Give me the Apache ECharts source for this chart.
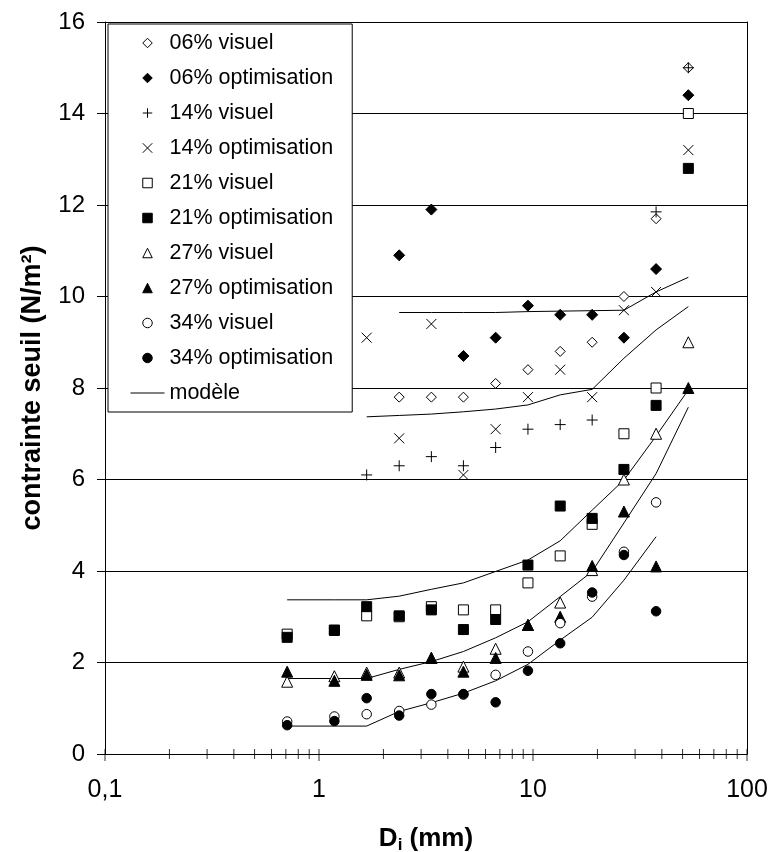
<!DOCTYPE html>
<html><head><meta charset="utf-8">
<script src="https://cdn.jsdelivr.net/npm/echarts@6/dist/echarts.min.js"></script>
<style>html,body{margin:0;padding:0;background:#fff}#c{width:772px;height:852px}</style>
</head><body><div id="c"></div>
<script>
// particle size classes (mm)
const xCols = [0.71, 1.18, 1.67, 2.37, 3.35, 4.73, 6.69, 9.47, 13.4, 18.9, 26.6, 37.6, 53.2];
// measured threshold stress (N/m2)
const vis06 = [null, null, null, 7.8, 7.8, 7.8, 8.1, 8.4, 8.8, 9.0, 10.0, 11.7, 15.0];
const opt06 = [null, null, null, 10.9, 11.9, 8.7, 9.1, 9.8, 9.6, 9.6, 9.1, 10.6, 14.4];
const vis14 = [null, null, 6.1, 6.3, 6.5, 6.3, 6.7, 7.1, 7.2, 7.3, null, 11.85, 15.0];
const opt14 = [null, null, 9.1, 6.9, 9.4, 6.1, 7.1, 7.8, 8.4, 7.8, 9.7, 10.1, 13.2];
const vis21 = [2.62, 2.7, 3.02, 3.0, 3.22, 3.15, 3.15, 3.74, 4.33, 5.02, 7.0, 8.0, 14.0];
const opt21 = [2.55, 2.71, 3.22, 3.02, 3.15, 2.72, 2.94, 4.13, 5.42, 5.15, 6.22, 7.62, 12.8];
const vis27 = [1.58, 1.70, 1.78, 1.78, 2.1, 1.91, 2.30, 2.82, 3.31, 4.02, 6.0, 7.0, 9.0];
const opt27 = [1.80, 1.60, 1.73, 1.72, 2.10, 1.80, 2.10, 2.82, 3.0, 4.11, 5.3, 4.1, 8.0];
const vis34 = [0.71, 0.82, 0.87, 0.94, 1.08, 1.3, 1.73, 2.24, 2.86, 3.44, 4.42, 5.5, null];
const opt34 = [0.63, 0.72, 1.22, 0.84, 1.31, 1.31, 1.13, 1.82, 2.42, 3.53, 4.35, 3.12, null];
// model curves
const mod06 = [null, null, null, 9.65, 9.65, 9.65, 9.65, 9.67, 9.68, 9.69, 9.70, 10.1, 10.42];
const mod14 = [null, null, 7.37, 7.40, 7.43, 7.48, 7.54, 7.63, 7.85, 7.97, 8.65, 9.27, 9.78];
const mod21 = [3.37, 3.37, 3.37, 3.45, 3.60, 3.74, 3.99, 4.24, 4.66, 5.33, 5.99, 6.95, 7.96];
const mod27 = [1.65, 1.65, 1.65, 1.85, 2.02, 2.24, 2.54, 2.89, 3.44, 3.99, 5.05, 6.13, 7.58];
const mod34 = [0.61, 0.61, 0.61, 0.93, 1.12, 1.33, 1.60, 1.96, 2.49, 2.99, 3.80, 4.75, null];
// axis ticks
const xTickValues = [0.1, 1, 10, 100];
const xTickLabels = ['0,1', '1', '10', '100'];
const xMinorTicks = [0.2, 0.3, 0.4, 0.5, 0.6, 0.7, 0.8, 0.9, 2, 3, 4, 5, 6, 7, 8, 9, 20, 30, 40, 50, 60, 70, 80, 90];

const FONT = 'Liberation Sans, Arial, sans-serif';
function pairs(vals) {
  const out = [];
  xCols.forEach((x, i) => { if (vals[i] != null) out.push([x, vals[i]]); });
  return out;
}
const DIAMOND = 'path://M5,0L10,5L5,10L0,5Z';
const SQUARE = 'path://M0,0L10,0L10,10L0,10Z';
const TRIANGLE = 'path://M5,0L10,10L0,10Z';
const PLUS = 'path://M5,0L5,10M0,5L10,5';
const CROSS = 'path://M0,0L10,10M10,0L0,10';
function sc(name, vals, symbol, size, filled) {
  return {
    name, type: 'scatter', data: pairs(vals), symbol, symbolSize: size, symbolKeepAspect: true,
    itemStyle: { color: filled ? '#000' : '#fff', borderColor: '#000', borderWidth: 1, opacity: 1 },
    z: 3
  };
}
function stroke(name, vals, symbol, size) {
  return {
    name, type: 'scatter', data: pairs(vals), symbol, symbolSize: size, symbolKeepAspect: true,
    itemStyle: { color: 'none', borderColor: '#000', borderWidth: 1, opacity: 1 },
    z: 3
  };
}
function model(vals) {
  return {
    name: 'modèle', type: 'line', data: pairs(vals), symbol: 'none', showSymbol: false,
    lineStyle: { color: '#000', width: 1 }, itemStyle: { color: '#000' }, z: 3, silent: true
  };
}
const names = ['06% visuel', '06% optimisation', '14% visuel', '14% optimisation', '21% visuel',
  '21% optimisation', '27% visuel', '27% optimisation', '34% visuel', '34% optimisation', 'modèle'];

const chart = echarts.init(document.getElementById('c'), null, { renderer: 'canvas' });
chart.setOption({
  backgroundColor: '#fff',
  animation: false,
  grid: { left: 105, right: 25, top: 22, bottom: 98, containLabel: false, outerBoundsMode: 'none' },
  legend: {
    data: names.map(n => n === 'modèle' ? { name: n, itemStyle: { opacity: 0 } } : { name: n }),
    orient: 'vertical', left: 108, top: 24,
    padding: [8, 19, 8, 22], itemGap: 13, itemWidth: 34, itemHeight: 9.5,
    symbolKeepAspect: true,
    backgroundColor: '#fff', borderColor: '#000', borderWidth: 1, borderRadius: 0,
    textStyle: { fontFamily: FONT, fontSize: 21.5, color: '#000' },
    itemStyle: { borderWidth: 1 },
    lineStyle: { width: 1 },
    selectedMode: false
  },
  xAxis: [{
    type: 'log', logBase: 10, min: 0.1, max: 100,
    axisLine: { show: true, onZero: false, lineStyle: { color: '#000', width: 1 } },
    axisTick: { show: false },
    minorTick: { show: false },
    splitLine: { show: false },
    axisLabel: {
      fontFamily: FONT, fontSize: 25, color: '#000', margin: 24,
      formatter: v => {
        const i = xTickValues.findIndex(t => Math.abs(Math.log10(t) - Math.log10(v)) < 1e-6);
        return i >= 0 ? xTickLabels[i] : '';
      }
    },
    name: '{b|D}{s|i}{b| (mm)}', nameLocation: 'middle', nameGap: 70,
    nameTextStyle: {
      rich: {
        b: { fontFamily: FONT, fontSize: 26, fontWeight: 'bold', color: '#000', lineHeight: 30 },
        s: { fontFamily: FONT, fontSize: 17, fontWeight: 'bold', color: '#000', lineHeight: 18, verticalAlign: 'bottom' }
      }
    }
  }],
  yAxis: [{
    type: 'value', min: 0, max: 16, interval: 2, position: 'left',
    axisLine: { show: true, lineStyle: { color: '#000', width: 1 } },
    axisTick: { show: true, inside: false, length: 8, lineStyle: { color: '#000', width: 1 } },
    axisLabel: { fontFamily: FONT, fontSize: 24, color: '#000', margin: 20 },
    splitLine: { show: true, lineStyle: { color: '#000', width: 1 } },
    name: 'contrainte seuil (N/m²)', nameLocation: 'middle', nameGap: 59, nameRotate: 90,
    nameTextStyle: { fontFamily: FONT, fontSize: 27, fontWeight: 'bold', color: '#000' }
  }, {
    type: 'value', min: 0, max: 16, interval: 2, position: 'left', offset: 0,
    axisLine: { show: false },
    axisTick: { show: true, inside: true, length: 5, lineStyle: { color: '#000', width: 1 } },
    axisLabel: { show: false },
    splitLine: { show: false }
  }, {
    type: 'value', min: 0, max: 16, interval: 2, position: 'right', offset: 0,
    axisLine: { show: true, lineStyle: { color: '#000', width: 1 } },
    axisTick: { show: false },
    axisLabel: { show: false },
    splitLine: { show: false }
  }],
  series: [
    sc('06% visuel', vis06, DIAMOND, 10, false),
    sc('06% optimisation', opt06, DIAMOND, 11, true),
    stroke('14% visuel', vis14, PLUS, 11),
    stroke('14% optimisation', opt14, CROSS, 10),
    sc('21% visuel', vis21, SQUARE, 10, false),
    sc('21% optimisation', opt21, SQUARE, 10, true),
    sc('27% visuel', vis27, TRIANGLE, 11, false),
    sc('27% optimisation', opt27, TRIANGLE, 11, true),
    sc('34% visuel', vis34, 'circle', 9.5, false),
    sc('34% optimisation', opt34, 'circle', 9.5, true),
    model(mod06), model(mod14), model(mod21), model(mod27), model(mod34),
    {
      name: 'xMinorTicks', type: 'scatter', data: xMinorTicks.map(v => [v, 0]),
      symbol: 'rect', symbolSize: [1, 10], itemStyle: { color: '#000' }, clip: false, silent: true, z: 4
    },
    {
      name: 'xMajorTicks', type: 'scatter', data: xTickValues.map(v => [v, 0]),
      symbol: 'rect', symbolSize: [1, 12], symbolOffset: [0, 1], itemStyle: { color: '#000' }, clip: false, silent: true, z: 4
    }
  ]
});
</script></body></html>
